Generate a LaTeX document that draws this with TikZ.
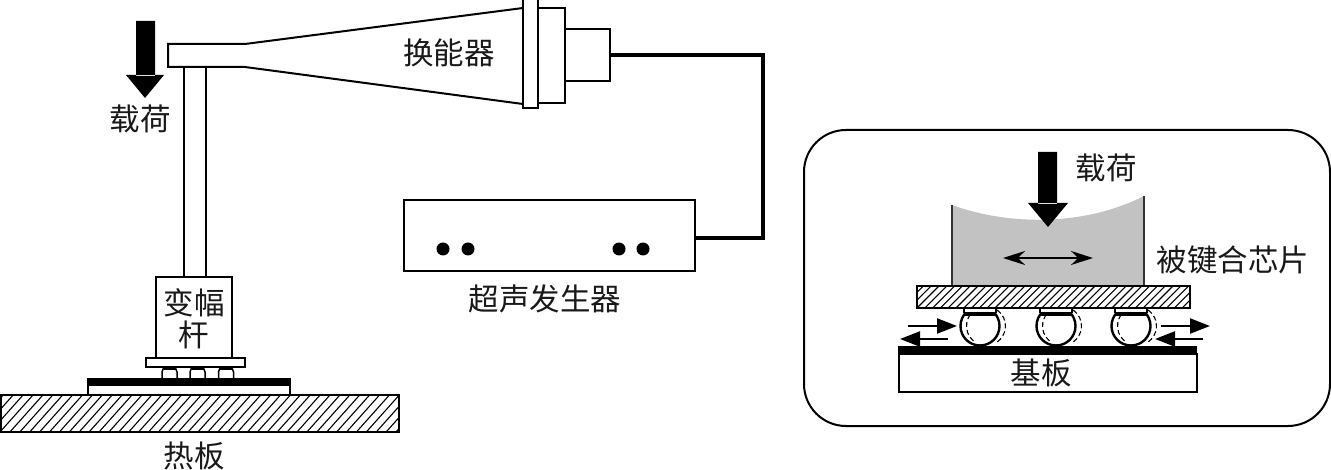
\documentclass[tikz,border=0pt]{standalone}
\usepackage{fontspec}
\usetikzlibrary{arrows.meta}
\newfontfamily\cjk{Noto Sans CJK SC}
\definecolor{blockgray}{gray}{0.76}
\tikzset{
  outl/.style={draw=black,line width=2pt,fill=white,inner sep=0pt,outer sep=0pt},
  lbl/.style={font=\fontsize{30.5}{32}\selectfont\cjk,inner sep=0pt,align=center,text=black!90},
  wire/.style={line width=3.6pt,line join=miter},
  hatchline/.style={line width=1.1pt},
  smallarrow/.style={line width=2.2pt,-{Triangle[length=20pt,width=15pt]}},
  dbl/.style={line width=1.8pt,{Stealth[length=22pt,width=14pt]}-{Stealth[length=22pt,width=14pt]}},
  bump/.style={draw=black,line width=2.4pt,fill=white,circle,minimum size=39pt,inner sep=0pt},
  dot/.style={circle,fill=black,minimum size=13pt,inner sep=0pt}
}
\begin{document}
\begin{tikzpicture}[x=1pt,y=-1pt]
\useasboundingbox (0,0) rectangle (1331,470);
\clip (0,0) rectangle (1331,470);
% transducer
\draw[outl] (168,44) -- (245,44) -- (523,8) -- (523,104) -- (245,67) -- (168,67) -- cycle;
\node[outl,minimum width=27pt,minimum height=95pt] (mid) at (551.5,56) {};
\node[outl,minimum width=45pt,minimum height=52pt] (back) at (587.5,55) {};
\node[outl,minimum width=15pt,minimum height=111pt] (flange) at (530.5,53) {};
\node[lbl] (hn) at (449,53) {换能器};
% post
\node[outl,minimum width=22pt,minimum height=211pt] (post) at (195,172.5) {};
\node[outl,minimum width=76pt,minimum height=81pt] (horn) at (194,318) {};
\node[lbl] (bf) at (194,319) {变幅\\杆};
\node[outl,minimum width=99pt,minimum height=9pt] (plate) at (195.5,362.5) {};
% left bumps
\foreach \n/\x in {a/169.5,b/197.5,c/226}{
  \draw[line width=1.5pt,fill=white] (\x-7.5,380) -- (\x-7.5,372) .. controls (\x-7.5,369) and (\x-5,367.5) .. (\x-5,367.5) -- (\x+5,367.5) .. controls (\x+5,367.5) and (\x+7.5,369) .. (\x+7.5,372) -- (\x+7.5,380);
  \fill (\x-6,367) rectangle (\x+6,370);
}
% substrate left
\node[outl,minimum width=202pt,minimum height=16pt] (subl) at (189,387) {};
\fill (87,379) rectangle (291,386);
% hot plate
\begin{scope}
\clip (1,395) rectangle (399,432);
\foreach \i in {-4,...,44}{
  \draw[hatchline] (\i*9.9,432) -- (\i*9.9+33,395);
}
\end{scope}
\node[draw=black,line width=2pt,minimum width=398pt,minimum height=37pt,inner sep=0pt] (hot) at (200,413.5) {};
\node[lbl] (rb) at (194,456) {热板};
% load arrow
\fill (136,21) rectangle (155,76) (126,75) -- (164,75) -- (145,98) -- cycle;
\node[lbl] (load) at (140,119) {载荷};
% generator
\node[outl,minimum width=291pt,minimum height=71pt] (gen) at (549.5,235.5) {};
\foreach \n/\x in {a/443,b/468,c/619,d/643}{ \node[dot] (d\n) at (\x,249) {}; }
\node[lbl] (csf) at (545,299) {超声发生器};
\coordinate (bend) at (763,150);
\coordinate (genin) at ([yshift=-2.5pt]gen.east);
\draw[wire] (back.east) -| (bend) |- (genin);
% inset
\node[draw=black,line width=2pt,rounded corners=42pt,minimum width=526pt,minimum height=296pt,inner sep=0pt] (panel) at (1067,278) {};
% die
\fill[blockgray] (952,205) .. controls (1010,226) and (1085,226) .. (1144,196) -- (1144,286) -- (952,286) -- cycle;
\draw[line width=1.8pt,black!80] (952,205) -- (952,286) (1144,196) -- (1144,286);
\fill (1038,152) rectangle (1057,204) (1028,203) -- (1068,203) -- (1048,227) -- cycle;
\node[lbl] (load2) at (1106,168) {载荷};
\coordinate (dl) at (1003,258);
\coordinate (dr) at (1093,258);
\draw[dbl] (dl) -- (dr);
\node[lbl] (chip) at (1233,260) {被键合芯片};
% bumps
\foreach \n/\x in {a/980,b/1056,c/1131}{
  \node[bump] (b\n) at (\x,326) {};
  \draw[line width=1.1pt,dash pattern=on 5pt off 3pt] (\x+6,326) ++(-55:19.5) arc[start angle=-55,end angle=55,radius=19.5];
  \draw[line width=1.1pt,dash pattern=on 5pt off 3pt] (\x+6,326) ++(130:19.5) arc[start angle=130,end angle=240,radius=19.5];
  \fill[white] (\x-16,308) rectangle (\x+16,313);
  \draw[line width=1.2pt] (\x-16,308) -- (\x-16,313) (\x+16,308) -- (\x+16,313);
  \fill (\x-16,312) rectangle (\x+16,316);
}
% chip hatch
\node[outl,minimum width=273pt,minimum height=22pt] (die) at (1053.5,297) {};
\begin{scope}
\clip (917,286) rectangle (1190,308);
\foreach \i in {-4,...,40}{
  \draw[hatchline] (917+\i*7.8,308) -- (917+\i*7.8+22,286);
}
\end{scope}
\node[draw=black,line width=2pt,minimum width=273pt,minimum height=22pt,inner sep=0pt] (dieb) at (1053.5,297) {};
% substrate
\node[outl,minimum width=298pt,minimum height=37pt] (sub) at (1048,373) {};
\fill (898,346) rectangle (1197,355);
\node[lbl] (jb) at (1041,373) {基板};
% motion arrows
\coordinate (a1) at (908,326); \coordinate (a2) at (957,326);
\coordinate (a3) at (948,339); \coordinate (a4) at (900,339);
\coordinate (a5) at (1161,326); \coordinate (a6) at (1210,326);
\coordinate (a7) at (1203,339); \coordinate (a8) at (1155,339);
\draw[smallarrow] (a1) -- (a2);
\draw[smallarrow] (a3) -- (a4);
\draw[smallarrow] (a5) -- (a6);
\draw[smallarrow] (a7) -- (a8);
\end{tikzpicture}
\end{document}
